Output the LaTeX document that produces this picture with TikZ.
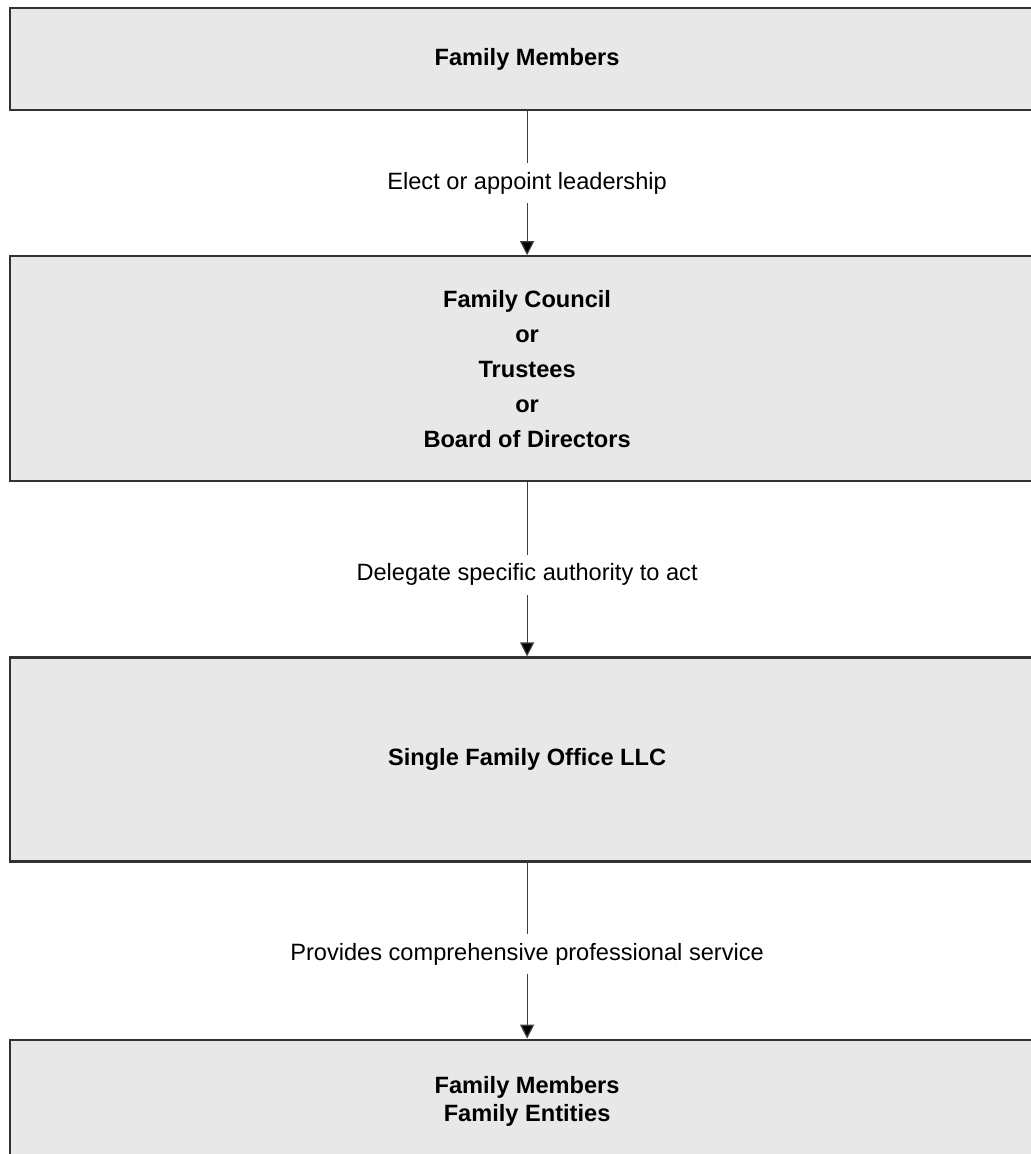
\documentclass[tikz,border=0pt]{standalone}
\usepackage{fontspec}
\setmainfont{Liberation Sans}
\usetikzlibrary{arrows.meta, positioning}
\definecolor{boxgray}{RGB}{232,232,232}
\definecolor{edgegray}{RGB}{50,50,50}

\begin{document}
\begin{tikzpicture}[
          box/.style={rectangle, draw=edgegray, fill=boxgray, line width=1.1pt,
                      minimum width=517pt, align=center, inner sep=0pt,
                      font=\fontsize{11.8}{14}\selectfont\bfseries},
          arr/.style={-{Triangle[length=7pt, width=7pt, fill=black]}, draw=black!75,
                      line width=0.6pt},
          lbl/.style={fill=white, inner xsep=2pt, inner ysep=4.5pt,
                      font=\fontsize{11.8}{14}\selectfont},
          node distance=72pt,
        ]
          \useasboundingbox[fill=white] (0,0) rectangle (515.5pt,-577pt);

          \node[box, anchor=north west, minimum height=51pt] (members)
                at (4.5pt,-3.5pt) {Family Members};
          \node[box, below=72pt of members, minimum height=112.5pt,
                font=\fontsize{11.8}{17.5}\selectfont\bfseries] (council)
                {Family Council\\or\\Trustees\\or\\Board of Directors};
          \node[box, below=87pt of council, minimum height=102pt] (office)
                {Single Family Office LLC};
          \node[box, below=88pt of office, minimum height=62pt] (entities)
                {Family Members\\Family Entities};

          \draw[arr] (members) -- node[lbl]{Elect or appoint leadership} (council);
          \draw[arr] (council) -- node[lbl, pos=0.53]{Delegate specific authority to act} (office);
          \draw[arr] (office)  -- node[lbl, pos=0.52]{Provides comprehensive professional service} (entities);
        \end{tikzpicture}
\end{document}
